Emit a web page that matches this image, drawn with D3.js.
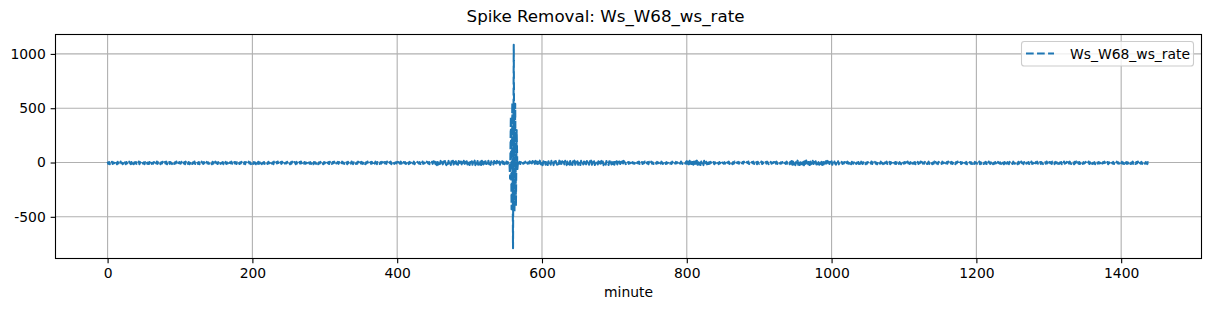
<!DOCTYPE html>
<html><head><meta charset="utf-8">
<script src="https://cdn.jsdelivr.net/npm/d3@7"></script>
<style>body{margin:0;background:#fff}text{font-family:"DejaVu Sans",sans-serif;fill:#000}</style>
</head><body><svg id="c" width="1211" height="311"></svg>
<script>
const titleText = "Spike Removal: Ws_W68_ws_rate";
const seriesName = "Ws_W68_ws_rate";
const xLabel = "minute";
const xTicks = [0,200,400,600,800,1000,1200,1400];
const xTickLabels = ["0","200","400","600","800","1000","1200","1400"];
const yTicks = [-500,0,500,1000];
const yTickLabels = ["-500","0","500","1000"];

// minutes 0-236
const seg1 = [8,-12,5,-15,3,-9,7,-14,1,-6,9,-13,-2,-16,6,-8,4,-12,9,-7,
-3,-15,7,-10,2,-16,5,-8,0,-13,8,-5,-14,4,-10,6,-16,2,-7,5,
-12,1,-9,9,-15,3,-5,-13,7,-10,2,-16,5,-6,8,-12,0,-14,4,-9,
7,-13,-2,-10,5,-16,3,-7,9,-12,1,-8,6,-15,2,-9,7,-5,-13,4,
-8,8,-16,0,-10,5,-12,3,-6,-14,7,-3,-13,2,-9,9,-11,-1,-16,5,
-5,-10,7,-14,0,-8,4,-16,8,-7,2,-12,5,-15,-3,-9,6,-13,1,-6,
9,-14,3,-8,-2,-12,5,-16,2,-10,8,-5,-13,4,-7,0,-15,6,-9,2,
-12,5,-8,-3,-16,7,-10,1,-13,8,-5,0,-14,3,-8,9,-12,-2,-6,5,
-16,3,-10,6,-13,0,-8,5,-15,2,-7,8,-11,-3,-16,5,-9,3,-13,1,
-5,9,-14,2,-8,6,-12,-1,-10,3,-16,5,-6,0,-13,8,-9,2,-15,6,
-3,-12,5,-8,0,-16,3,-10,7,-13,2,-5,8,-15,-2,-9,5,-12,3,-6,
1,-13,7,-8,-3,-15,5,-10,2,-16,8,-6,-12,3,-8,9,-13];
// minutes 238-449
const seg2a = [-7,4,-12,8,-2,-15,5,-10,0,-8,7,-13,3,-5,-16,2,-10,8,-6,-12,
5,-3,-15,6,-8,0,-13,4,-10,9,-5,-16,2,-8,5,-12,-1,-7,8,-14,
0,-10,3,-13,7,-5,-16,5,-8,2,-12,8,-3,-15,1,-9,6,-13,3,-7,
-16,5,-8,9,-12,-2,-6,3,-14,7,-10,0,-13,5,-5,8,-16,2,-8,-3,
6,-12,3,-10,-2,-15,8,-7,0,-13,5,-8,2,-16,6,-5,-12,3,-10,9,
-3,-14,2,-7,5,-13,0,-10,8,-5,-16,3,-8,6,-12,-2,-9,5,-15,2,
-7,9,-13,0,-8,3,-12,6,-5,-16,2,-10,8,-3,-14,5,-6,0,-13,3,
-10,6,-2,-16,5,-8,3,-12,9,-7,-13,2,-5,8,-15,0,-10,5,-12,-3,
2,-8,6,-14,3,-5,-12,8,-10,0,-16,5,-7,3,-13,9,-8,-2,-15,6,
-5,0,-12,5,-10,8,-16,2,-7,-13,6,-3,-10,3,-14,5,-8,9,-12,0,
-7,3,-13,8,-2,-10,5,-15,0,-8,6,-12];
// minutes 450-554
const seg2b = [12,-21,8,-16,14,-24,5,-18,11,-13,15,-22,3,-17,9,-20,14,-11,-24,6,
-14,15,-20,2,-23,11,-9,16,-18,5,-25,12,-15,8,-21,14,-6,-20,9,-17,
3,-24,15,-12,6,-21,11,-18,16,-8,-23,5,-15,12,-20,2,-14,17,-24,8,
-11,14,-21,0,-17,9,-23,15,-9,-18,6,-25,12,-14,3,-20,16,-15,8,-22,
11,-12,2,-18,14,-21,5,-9,15,-17,-6,9,-20,3,-14,12,-11,6,-15,5,
-8,9,-12,3,-6];
// minutes 555-567
const spike = [4,-150,420,-430,550,-790,1085,-450,540,-400,300,-60,10];
// minutes 568-716
const seg3 = [-9,6,-14,3,-8,11,-12,0,-6,8,-16,5,-11,2,-9,12,-17,3,-8,14,
-20,6,-12,15,-23,9,-14,3,-21,17,-11,-18,8,-24,12,-15,5,-20,14,-9,
-23,11,-17,2,-21,15,-12,6,-24,9,-18,14,-8,-20,3,-15,17,-23,8,-12,
12,-21,5,-17,15,-11,-24,9,-14,2,-20,14,-18,6,-23,11,-9,17,-21,3,
-15,12,-20,8,-11,-23,15,-14,5,-18,9,-24,2,-17,14,-12,6,-21,11,-8,
17,-20,3,-15,11,-23,8,-14,0,-18,12,-21,5,-11,15,-17,9,-24,6,-12,
-20,14,-9,3,-23,12,-15,8,-18,2,-14,17,-21,5,-12,11,-17,6,-20,9,
-14,5,-21,11,-9,15,-18,0,-23];
// minutes 718-799
const seg4a = [-8,5,-12,2,-6,9,-14,3,-10,0,-11,6,-5,-16,3,-8,8,-13,-2,-9,
5,-14,2,-6,9,-11,0,-8,3,-16,6,-5,-12,8,-10,2,-14,5,-7,-3,
-11,6,-8,0,-16,5,-10,8,-3,-13,2,-6,9,-14,3,-8,-2,-11,5,-10,
0,-13,8,-5,-16,3,-10,6,-8,2,-14,5,-6,-11,9,-3,-12,0,-8,3,
-10,6];
// minutes 800-830
const seg4b = [12,-23,6,-17,15,-24,3,-14,18,-20,8,-25,11,-12,17,-21,2,-18,14,-23,9,-15,5,-24,15,-11,-20,6,-17,12,-14];
// minutes 831-944
const seg4c = [3,-10,6,-13,0,-8,5,-16,2,-6,9,-11,-3,-14,5,-8,8,-13,0,-5,
-11,3,-10,6,-14,2,-6,8,-13,-2,-8,5,-16,3,-10,9,-5,-14,0,-6,
6,-11,2,-8,-3,-16,5,-10,8,-6,0,-13,3,-5,9,-14,2,-8,-11,5,
-6,8,-13,0,-10,3,-16,6,-5,-11,2,-8,9,-14,3,-6,-2,-13,5,-10,
8,-3,-14,2,-8,6,-11,0,-6,5,-16,3,-10,8,-13,-2,-5,9,-11,2,
-8,5,-14,3,-6,0,-13,8,-10,2,-5,-16,6,-11];
// minutes 945-1010
const seg4d = [14,-21,8,-17,12,-24,5,-14,17,-20,9,-23,3,-15,15,-18,6,-25,11,-12,
18,-21,2,-17,14,-23,8,-11,-20,15,-14,5,-24,12,-18,9,-15,3,-21,17,
-12,6,-23,14,-17,2,-20,11,-9,15,-24,8,-14,5,-18,12,-21,3,-15,9,
-11,-20,6,-14,12,-17];
// minutes 1011-1439
const seg4e = [-5,3,-10,6,-13,0,-8,5,-14,2,-6,8,-11,-2,-10,3,-16,6,-5,-11,
2,-8,9,-13,0,-6,5,-14,3,-10,8,-3,-13,2,-8,6,-16,0,-10,5,
-6,-11,3,-8,9,-14,2,-5,-13,6,-10,0,-16,5,-8,3,-11,8,-6,-2,
-14,5,-10,2,-6,8,-13,0,-8,6,-16,3,-5,9,-11,-3,-10,5,-14,2,
-8,6,-13,3,-5,-16,8,-10,0,-11,5,-6,2,-14,9,-8,-3,-13,3,-6,
8,-11,0,-10,5,-16,2,-8,6,-13,-2,-5,9,-14,3,-10,0,-11,6,-8,
3,-14,-5,8,-13,2,-6,5,-16,0,-10,9,-11,3,-8,-2,-14,6,-5,-10,
2,-13,8,-6,0,-16,5,-8,3,-11,9,-5,-14,2,-10,6,-13,-3,-8,5,
-16,3,-6,9,-11,0,-8,5,-14,2,-5,8,-13,-2,-10,6,-16,3,-6,-11,
5,-10,2,-14,8,-3,-13,6,-8,0,-11,3,-5,9,-16,2,-10,5,-6,-13,
0,-8,6,-14,3,-10,9,-5,-13,2,-6,8,-16,-2,-11,5,-8,3,-14,6,
-3,-10,2,-13,8,-6,0,-16,5,-8,9,-11,3,-5,-14,6,-10,2,-6,-13,
8,-5,-11,3,-8,0,-16,6,-10,2,-13,9,-6,-3,-14,5,-8,8,-11,0,
-6,5,-14,2,-10,9,-13,-2,-8,6,-16,3,-5,8,-11,0,-10,5,-13,3,
-8,-14,6,-5,2,-11,9,-8,0,-16,5,-6,3,-13,8,-10,-2,-14,6,-5,
2,-10,8,-13,0,-6,5,-16,3,-8,9,-11,-3,-5,6,-14,2,-10,8,-6,
-13,3,-8,0,-16,6,-5,9,-11,2,-10,5,-14,-2,-6,8,-13,3,-8,-3,
5,-11,0,-8,9,-14,2,-6,6,-13,-3,-10,3,-16,8,-5,0,-11,5,-8,
-2,-14,6,-10,3,-6,8,-13,0,-8,5,-16,2,-5,9,-11,-3,-10,6,-14,
3,-6,-13,8,-8,2,-11,5,-5,-16,6,-10,0,-14,9,-6,3,-13,2,-8,
-5,6,-14,0,-10,8,-11,3,-6,-13,5,-8,9,-16,2,-5,-10,6,-13,3,
-8,2,-11,5,-6,-14,3,-10,0];

const values = [].concat(seg1,[null],seg2a,seg2b,spike,seg3,[null],seg4a,seg4b,seg4c,seg4d,seg4e);
const data = values.map((v,i)=>({minute:i, v:v}));

const svg = d3.select("#c");
const L=55.5, R=1201.5, T=34.5, B=258.5;
const color = "#1f77b4";
const tickLen = 4.86, tickPad = 4.86, fs = 13.9;

const xExt = d3.extent(data, d=>d.minute);
const xm = (xExt[1]-xExt[0])*0.05;
const x = d3.scaleLinear().domain([xExt[0]-xm, xExt[1]+xm]).range([L,R]);
const def = data.filter(d=>d.v!==null);
const yExt = d3.extent(def, d=>d.v);
const ym = (yExt[1]-yExt[0])*0.05;
const y = d3.scaleLinear().domain([yExt[0]-ym, yExt[1]+ym]).range([B,T]);

// grid
const g = svg.append("g");
g.selectAll(".gx").data(xTicks).enter().append("line")
 .attr("x1",d=>x(d)).attr("x2",d=>x(d)).attr("y1",T).attr("y2",B)
 .attr("stroke","#b0b0b0").attr("stroke-width",1.1);
g.selectAll(".gy").data(yTicks).enter().append("line")
 .attr("y1",d=>y(d)).attr("y2",d=>y(d)).attr("x1",L).attr("x2",R)
 .attr("stroke","#b0b0b0").attr("stroke-width",1.1);

// line
svg.append("clipPath").attr("id","clip").append("rect").attr("x",L).attr("y",T).attr("width",R-L).attr("height",B-T);
const line = d3.line().defined(d=>d.v!==null).x(d=>x(d.minute)).y(d=>y(d.v));
svg.append("path").datum(data).attr("clip-path","url(#clip)")
 .attr("d",line).attr("fill","none").attr("stroke",color).attr("stroke-width",2.08)
 .attr("stroke-dasharray","7.7,3.33").attr("stroke-linejoin","round");

// axes
const xAxis = d3.axisBottom(x).tickValues(xTicks).tickFormat((d,i)=>xTickLabels[i]).tickSize(tickLen).tickPadding(tickPad);
const ax = svg.append("g").attr("transform",`translate(0,${B})`).call(xAxis);
const yAxis = d3.axisLeft(y).tickValues(yTicks).tickFormat((d,i)=>yTickLabels[i]).tickSize(tickLen).tickPadding(tickPad);
const ay = svg.append("g").attr("transform",`translate(${L},0)`).call(yAxis);
[ax,ay].forEach(a=>{
  a.select(".domain").remove();
  a.selectAll(".tick line").attr("stroke","#000").attr("stroke-width",1.1);
  a.selectAll(".tick text").attr("font-family","DejaVu Sans").attr("font-size",fs).attr("fill","#000");
});

// spines
svg.append("rect").attr("x",L).attr("y",T).attr("width",R-L).attr("height",B-T)
 .attr("fill","none").attr("stroke","#000").attr("stroke-width",1.1);

// title & label
svg.append("text").attr("x",605.5).attr("y",22).attr("text-anchor","middle").attr("font-size",16.7).text(titleText);
svg.append("text").attr("x",(L+R)/2).attr("y",297).attr("text-anchor","middle").attr("font-size",fs).text(xLabel);

// legend
const lg = svg.append("g");
lg.append("rect").attr("x",1021.5).attr("y",41.5).attr("width",172).attr("height",24.5).attr("rx",2.8)
 .attr("fill","#fff").attr("fill-opacity",0.8).attr("stroke","#cccccc").attr("stroke-width",1.1);
lg.append("line").attr("x1",1026).attr("x2",1054).attr("y1",53.5).attr("y2",53.5)
 .attr("stroke",color).attr("stroke-width",2.08).attr("stroke-dasharray","7.7,3.33");
lg.append("text").attr("x",1070).attr("y",58.5).attr("font-size",fs).text(seriesName);
</script></body></html>
